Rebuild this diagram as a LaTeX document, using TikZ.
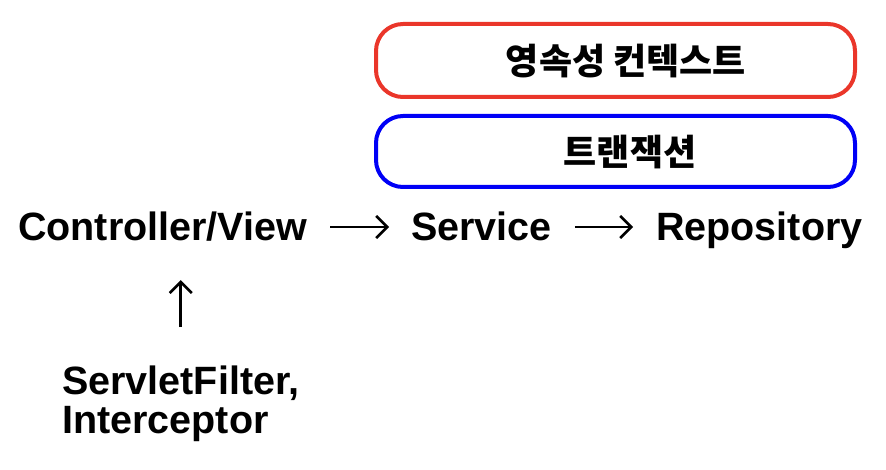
\documentclass[tikz,border=0pt]{standalone}
\usepackage{fontspec}
\setmainfont{Liberation Sans}
\newfontfamily\hangul{Noto Sans CJK KR}
\usetikzlibrary{arrows.meta}
\definecolor{ctxred}{RGB}{234,54,42}
\definecolor{txblue}{RGB}{0,0,246}
\tikzset{
  layer/.style={line width=4pt, rounded corners=27pt},
  layertext/.style={font=\hangul\bfseries\fontsize{36}{40}\selectfont, inner sep=0pt},
  comp/.style={font=\bfseries\fontsize{39.5}{39}\selectfont, inner sep=0pt, text height=28pt, text depth=0pt},
  flow/.style={line width=2.6pt, -{Straight Barb[length=11pt,width=22pt,line width=2.6pt]}}
}
\begin{document}
\begin{tikzpicture}[x=1pt,y=-1pt]
    \useasboundingbox (0,0) rectangle (886,470);

    % Layers
    \draw[layer, ctxred] (376,24) rectangle (855,97);
    \draw[layer, txblue] (376,116) rectangle (855,187);
    \node[layertext] (ctx) at (626,61) {영속성 컨텍스트};
    \node[layertext] (tx) at (630,152) {트랜잭션};

    % Components
    \node[comp, anchor=west] (ctrl) at (18,227) {Controller/View};
    \node[comp, anchor=west] (svc) at (411,227) {Service};
    \node[comp, anchor=west] (repo) at (656,227) {Repository};
    \node[comp, anchor=north west, align=left, text height=, text depth=] (filter) at (62,366)
        {ServletFilter,\\Interceptor};

    % Calls
    \draw[flow, shorten <=23pt, shorten >=22pt] (ctrl) -- (svc);
    \draw[flow, shorten <=23pt, shorten >=23pt] (svc) -- (repo);
    \draw[flow, shorten <=39pt, shorten >=39pt] (filter.north) -- (filter.north |- ctrl.south);
\end{tikzpicture}
\end{document}
